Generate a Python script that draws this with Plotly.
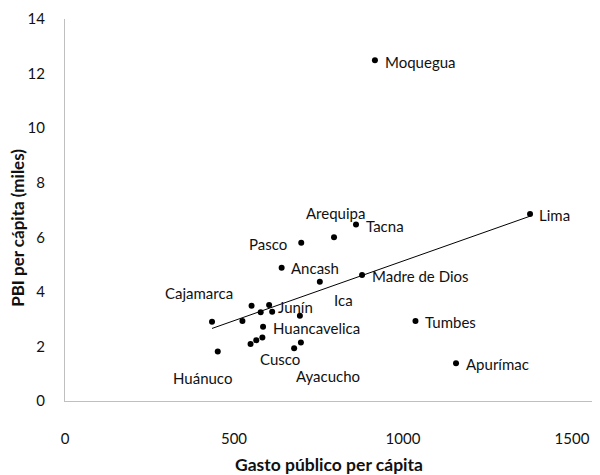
import numpy as np
import plotly.graph_objects as go

# Data
gasto = [917, 1376, 861, 796, 699, 641, 754, 879, 1037, 1157, 435, 452,
         525, 552, 579, 604, 613, 695, 586, 584, 566, 549, 678, 698]
pbi = [12.49, 6.85, 6.47, 6.00, 5.80, 4.88, 4.37, 4.62, 2.93, 1.38, 2.90, 1.81,
       2.93, 3.49, 3.25, 3.52, 3.27, 3.12, 2.72, 2.33, 2.23, 2.09, 1.93, 2.14]

label_text = ["Moquegua", "Lima", "Tacna", "Arequipa", "Pasco", "Ancash", "Ica",
              "Madre de Dios", "Cajamarca", "Junín", "Huancavelica", "Cusco",
              "Ayacucho", "Huánuco", "Tumbes", "Apurímac"]
# label placement (left edge x, centre y) in data units
label_x = [942, 1397, 885, 708, 539, 664, 791, 903, 291, 625, 610, 572, 678, 315, 1060, 1181]
label_y = [12.42, 6.82, 6.41, 6.89, 5.75, 4.87, 3.70, 4.58, 3.96, 3.44, 2.67, 1.54, 0.92, 0.84, 2.89, 1.36]

x_ticks = [0, 500, 1000, 1500]
y_ticks = [0, 2, 4, 6, 8, 10, 12, 14]

FONT = "Lato, 'Open Sans', sans-serif"

# linear trendline (least squares) over data range
coef = np.polyfit(gasto, pbi, 1)
tx = np.array([min(gasto), max(gasto)])
ty = np.polyval(coef, tx)

fig = go.Figure()
fig.add_trace(go.Scatter(x=tx, y=ty, mode="lines",
                         line=dict(color="black", width=1), hoverinfo="skip"))
fig.add_trace(go.Scatter(x=gasto, y=pbi, mode="markers",
                         marker=dict(color="black", size=6)))

for t, lx, ly in zip(label_text, label_x, label_y):
    fig.add_annotation(x=lx, y=ly, text=t, showarrow=False, xanchor="left",
                       yanchor="middle", font=dict(family=FONT, size=15, color="#111"))

fig.add_annotation(x=0.493, y=-0.165, xref="paper", yref="paper", text="<b>Gasto público per cápita</b>",
                   showarrow=False, xanchor="center", yanchor="middle",
                   font=dict(family=FONT, size=17.5, color="#111"))
fig.add_annotation(x=-0.088, y=0.453, xref="paper", yref="paper", text="<b>PBI per cápita (miles)</b>",
                   showarrow=False, textangle=-90, xanchor="center", yanchor="middle",
                   font=dict(family=FONT, size=17, color="#111"))

fig.update_layout(
    width=600, height=475,
    margin=dict(l=57, r=8, t=11, b=82),
    plot_bgcolor="white", paper_bgcolor="white",
    showlegend=False,
    font=dict(family=FONT, size=15, color="#111"),
    xaxis=dict(range=[0, 1583], tickvals=x_ticks, showgrid=False, zeroline=False,
               showline=True, linecolor="#bfbfbf", linewidth=1, ticks="",
               automargin=False, ticklabelstandoff=24, tickfont=dict(size=15)),
    yaxis=dict(range=[0, 14], tickvals=y_ticks, showgrid=False, zeroline=False,
               showline=True, linecolor="#bfbfbf", linewidth=1, ticks="",
               automargin=False, ticklabelstandoff=16, tickfont=dict(size=15)),
)

fig.write_html("out.html")
